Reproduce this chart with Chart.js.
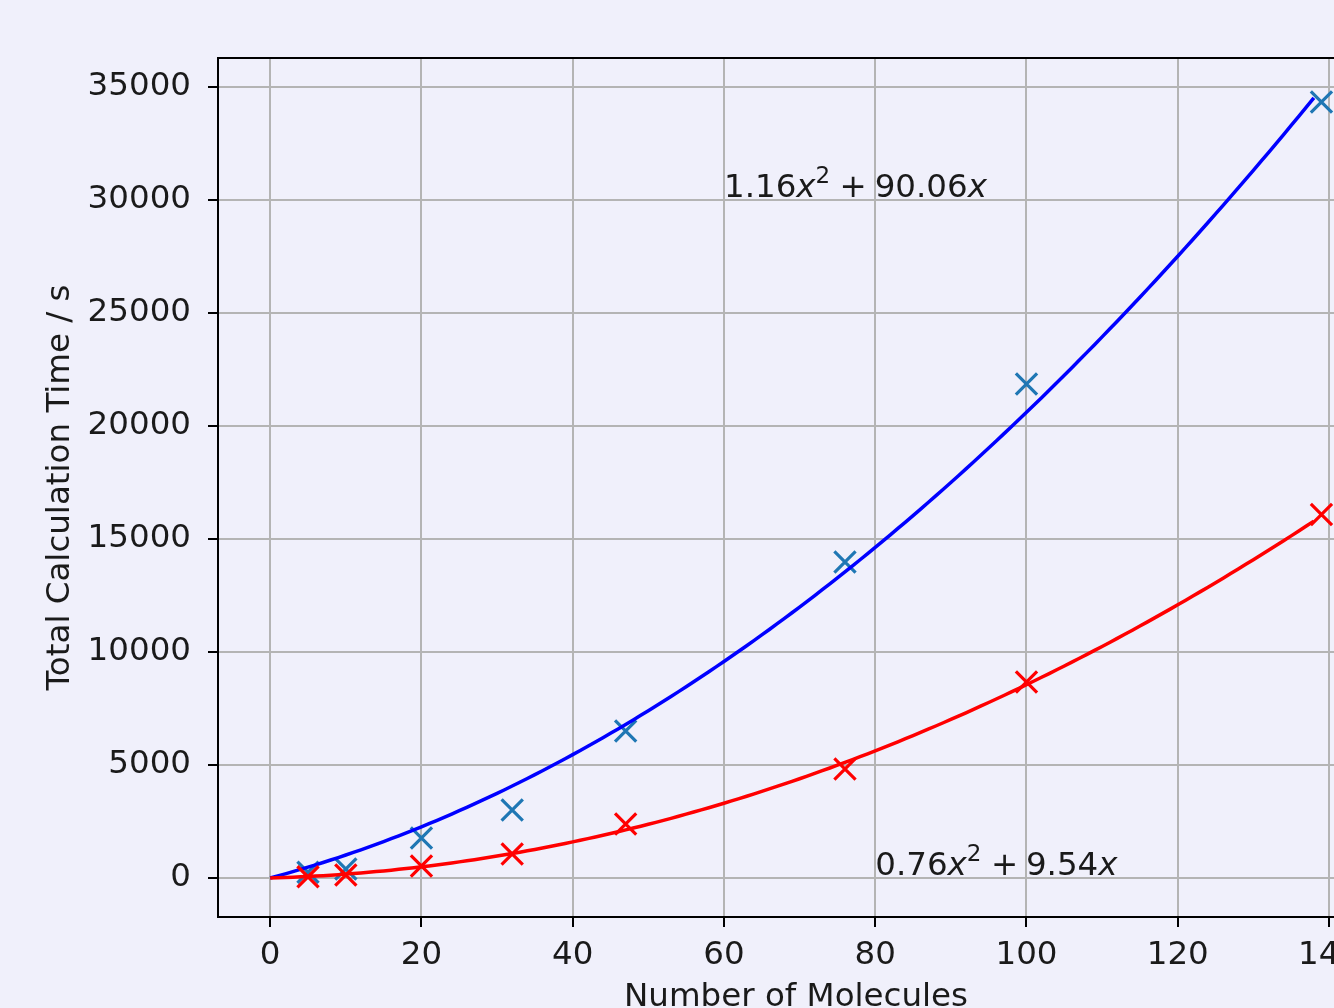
<!DOCTYPE html>
<html>
<head>
<meta charset="utf-8">
<script src="https://cdn.jsdelivr.net/npm/chart.js@4/dist/chart.umd.min.js"></script>
<style>
  html, body { margin: 0; padding: 0; background: #f0f0fb; overflow: hidden; width: 1334px; height: 1008px; }
  canvas { display: block; }
</style>
</head>
<body>
<canvas id="chart" width="1440" height="1008"></canvas>
<script>
// Measured run times
const molecules = [5, 10, 20, 32, 47, 76, 100, 139];
const timeBlue  = [250, 400, 1770, 3010, 6500, 13980, 21860, 34340];
const timeRed   = [50, 130, 530, 1060, 2390, 4820, 8670, 16080];

// Quadratic fits  a*x^2 + b*x
const fitBlue = [1.16, 90.06];
const fitRed  = [0.76, 9.54];
const fitStart = 0;
const fitEnd = 138;

// Where the fit equations are written (data coordinates)
const labelBlueAt = [60, 30000];
const labelRedAt  = [80, 0];

// Axis ticks and limits
const xTicks = [0, 20, 40, 60, 80, 100, 120, 140];
const yTicks = [0, 5000, 10000, 15000, 20000, 25000, 30000, 35000];
const xLimits = [-6.9, 145.95];
const yLimits = [-1726, 36283];

const FONT = 'DejaVu Sans';
const FS = 32.5;

function fitCurve(coef) {
  const pts = [];
  for (let x = fitStart; x <= fitEnd; x += 1) {
    pts.push({ x: x, y: coef[0] * x * x + coef[1] * x });
  }
  return pts;
}

function pairs(xs, ys) {
  return xs.map((x, i) => ({ x: x, y: ys[i] }));
}

// Draws "a x^2 + b x" in math style with its baseline at (x, y)
function drawPoly(ctx, x, y, coef) {
  const reg = `${FS}px "${FONT}"`;
  const ita = `oblique ${FS}px "${FONT}"`;
  const sup = `${Math.round(FS * 0.7)}px "${FONT}"`;
  const parts = [
    { t: coef[0].toFixed(2), f: reg, dy: 0 },
    { t: 'x', f: ita, dy: 0 },
    { t: '2', f: sup, dy: -0.42 * FS, after: 0.05 * FS },
    { gap: 0.24 * FS },
    { t: '+', f: reg, dy: 0 },
    { gap: 0.24 * FS },
    { t: coef[1].toFixed(2), f: reg, dy: 0 },
    { t: 'x', f: ita, dy: 0 }
  ];
  ctx.save();
  ctx.fillStyle = '#1a1a1a';
  ctx.textBaseline = 'alphabetic';
  ctx.textAlign = 'left';
  let cx = x;
  for (const p of parts) {
    if (p.gap) { cx += p.gap; continue; }
    ctx.font = p.f;
    ctx.fillText(p.t, cx, y + p.dy);
    cx += ctx.measureText(p.t).width + (p.after || 0);
  }
  ctx.restore();
}

const framePlugin = {
  id: 'frameAndLabels',
  afterDatasetsDraw(chart) {
    const { ctx, chartArea: a, scales } = chart;
    ctx.save();
    ctx.strokeStyle = '#000';
    ctx.lineWidth = 2;
    ctx.beginPath();
    ctx.moveTo(a.left, a.bottom);
    ctx.lineTo(a.left, a.top);
    ctx.lineTo(a.right, a.top);
    ctx.lineTo(a.right, a.bottom);
    ctx.stroke();
    ctx.restore();
    drawPoly(ctx, scales.x.getPixelForValue(labelBlueAt[0]), scales.y.getPixelForValue(labelBlueAt[1]) - 3, fitBlue);
    drawPoly(ctx, scales.x.getPixelForValue(labelRedAt[0]), scales.y.getPixelForValue(labelRedAt[1]) - 3, fitRed);
  }
};

const bgPlugin = {
  id: 'bg',
  beforeDraw(chart) {
    const { ctx, width, height } = chart;
    ctx.save();
    ctx.fillStyle = '#f0f0fb';
    ctx.fillRect(0, 0, width, height);
    ctx.restore();
  }
};

const tickFont = { family: FONT, size: FS };
const plain = v => String(v);

new Chart(document.getElementById('chart'), {
  type: 'scatter',
  data: {
    datasets: [
      {
        label: 'blue data',
        data: pairs(molecules, timeBlue),
        pointStyle: 'crossRot',
        pointRadius: 15,
        pointBorderWidth: 3.2,
        borderColor: '#1f77b4',
        backgroundColor: '#1f77b4',
        showLine: false,
        order: 4
      },
      {
        label: 'blue fit',
        data: fitCurve(fitBlue),
        showLine: true,
        borderColor: '#0000ff',
        borderWidth: 3.5,
        pointRadius: 0,
        tension: 0,
        order: 3
      },
      {
        label: 'red fit',
        data: fitCurve(fitRed),
        showLine: true,
        borderColor: '#ff0000',
        borderWidth: 3.5,
        pointRadius: 0,
        tension: 0,
        order: 2
      },
      {
        label: 'red data',
        data: pairs(molecules, timeRed),
        pointStyle: 'crossRot',
        pointRadius: 15,
        pointBorderWidth: 3.2,
        borderColor: '#ff0000',
        backgroundColor: '#ff0000',
        showLine: false,
        order: 1
      }
    ]
  },
  options: {
    responsive: false,
    animation: false,
    events: [],
    layout: { padding: { top: 58, right: 66, bottom: 0, left: 0 } },
    plugins: { legend: { display: false }, tooltip: { enabled: false } },
    scales: {
      x: {
        type: 'linear',
        min: xLimits[0],
        max: xLimits[1],
        afterBuildTicks: s => { s.ticks = xTicks.map(v => ({ value: v })); },
        afterFit: s => { s.height = 91; },
        ticks: { padding: 9, maxRotation: 0, autoSkip: false, font: tickFont, color: '#1a1a1a', callback: plain },
        grid: { color: '#b4b4b4', lineWidth: 2, tickColor: '#000', tickLength: 10, tickWidth: 2 },
        border: { display: true, color: '#000', width: 2 },
        title: {
          display: true, text: 'Number of Molecules', color: '#1a1a1a',
          font: { family: FONT, size: FS }, padding: { top: 0, bottom: -9 }
        }
      },
      y: {
        type: 'linear',
        min: yLimits[0],
        max: yLimits[1],
        afterBuildTicks: s => { s.ticks = yTicks.map(v => ({ value: v })); },
        afterFit: s => { s.width = 218; },
        ticks: { padding: 17, font: tickFont, color: '#1a1a1a', callback: plain },
        grid: { color: '#b4b4b4', lineWidth: 2, tickColor: '#000', tickLength: 10, tickWidth: 2 },
        border: { display: true, color: '#000', width: 2 },
        title: {
          display: true, text: 'Total Calculation Time / s', color: '#1a1a1a',
          font: { family: FONT, size: FS }, padding: { top: 41, bottom: 0 }
        }
      }
    }
  },
  plugins: [bgPlugin, framePlugin]
});
</script>
</body>
</html>
